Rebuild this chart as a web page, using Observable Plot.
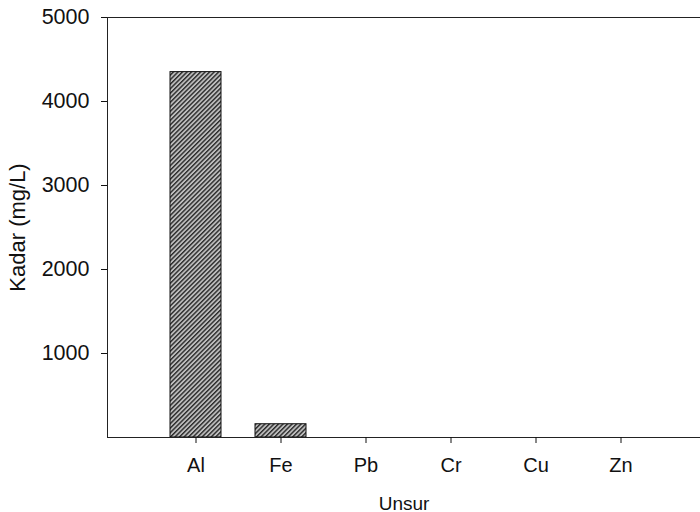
<!DOCTYPE html>
<html><head><meta charset="utf-8">
<script src="https://cdn.jsdelivr.net/npm/d3@7"></script>
<script src="https://cdn.jsdelivr.net/npm/@observablehq/plot@0.6"></script>
<style>html,body{margin:0;padding:0;background:#fff;overflow:hidden}</style>
</head><body><div id="chart"></div>
<script>
// Element concentrations (mg/L)
const elements = ["Al", "Fe", "Pb", "Cr", "Cu", "Zn"];
const levels = [4350, 158, 0, 0, 0, 0];
const yTicks = [1000, 2000, 3000, 4000, 5000];

const data = elements.map((e, i) => ({element: e, level: levels[i]}));

const chart = Plot.plot({
  width: 700,
  height: 512,
  marginLeft: 107,
  marginRight: 0,
  marginTop: 17,
  marginBottom: 75,
  style: {fontFamily: "Liberation Sans, Arial, sans-serif", fontSize: "20px", color: "#111", background: "#fff"},
  x: {type: "band", domain: elements, range: [150, 666], paddingInner: 0.395, paddingOuter: 0.1977, label: "Unsur"},
  y: {domain: [0, 5000], label: "Kadar (mg/L)"},
  marks: [
    Plot.barY(data, {x: "element", y: "level", fill: "url(#hatch)", stroke: "#111", strokeWidth: 1}),
    Plot.ruleY([0, 5000], {stroke: "#222"}),
    Plot.frame({anchor: "left", stroke: "#222"}),
    Plot.axisX({tickSize: 6, tickPadding: 14, label: "Unsur", labelAnchor: "center", labelOffset: 72}),
    Plot.axisY({ticks: yTicks, tickFormat: "d", tickSize: 6, tickPadding: 12, label: "Kadar (mg/L)", labelAnchor: "center", labelArrow: "none", labelOffset: 98})
  ]
});

const svg = chart.tagName.toLowerCase() === "svg" ? chart : chart.querySelector("svg");

// per-axis text sizes
const sizes = {
  "y-axis tick label": 21.5,
  "x-axis tick label": 20,
  "y-axis label": 22,
  "x-axis label": 19
};
for (const [name, size] of Object.entries(sizes)) {
  svg.querySelectorAll(`[aria-label="${name}"], [aria-label="${name}"] text`).forEach(el => {
    el.style.fontSize = size + "px";
  });
}

// diagonal hatch fill for the bars
const ns = "http://www.w3.org/2000/svg";
const defs = document.createElementNS(ns, "defs");
defs.innerHTML = `<pattern id="hatch" width="3.2" height="3.2" patternUnits="userSpaceOnUse" patternTransform="rotate(45)">
  <rect width="3.2" height="3.2" fill="#bdbdbd"/><rect width="1.4" height="3.2" fill="#2a2a2a"/></pattern>`;
svg.insertBefore(defs, svg.firstChild);

document.getElementById("chart").appendChild(chart);
</script>
</body></html>
